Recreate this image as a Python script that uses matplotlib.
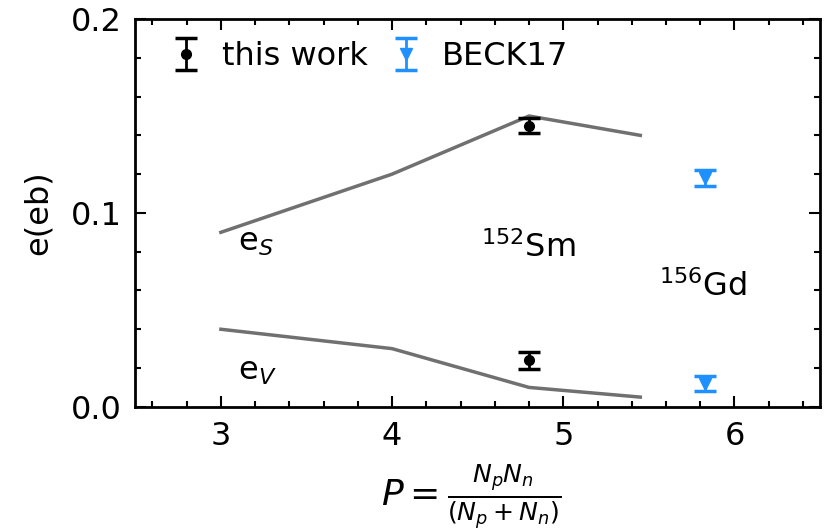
import matplotlib.pyplot as plt
from matplotlib.ticker import MultipleLocator

# IBM-2 effective charges against the P factor
p_calc = [3.0, 4.0, 4.8, 5.45]
eS_calc = [0.090, 0.120, 0.150, 0.140]
eV_calc = [0.040, 0.030, 0.010, 0.005]

# this work (152Sm)
p_sm = [4.8, 4.8]
e_sm = [0.145, 0.024]
err_sm = [0.004, 0.0045]

# BECK17 (156Gd)
p_gd = [5.83, 5.83]
e_gd = [0.118, 0.012]
err_gd = [0.004, 0.004]

fs = 23
plt.rcParams['font.size'] = fs

fig = plt.figure(figsize=(8.25, 5.29), dpi=100)
ax = fig.add_axes([0.164, 0.231, 0.83, 0.733])

ax.plot(p_calc, eS_calc, color='#707070', lw=2.5)
ax.plot(p_calc, eV_calc, color='#707070', lw=2.5)

ax.errorbar(p_sm, e_sm, yerr=err_sm, fmt='o', color='black', ms=7,
            elinewidth=2, capsize=8, capthick=2.5, label='this work')
ax.errorbar(p_gd, e_gd, yerr=err_gd, fmt='v', color='#1E90FF', ms=8,
            elinewidth=2, capsize=8, capthick=2.5, label='BECK17')

ax.text(3.1, 0.0845, '$\\mathregular{e}_S$', fontsize=fs, va='center')
ax.text(3.1, 0.018, '$\\mathregular{e}_V$', fontsize=fs, va='center')
ax.text(4.52, 0.082, '$^{152}$Sm', fontsize=fs, va='center')
ax.text(5.56, 0.062, '$^{156}$Gd', fontsize=fs, va='center')

ax.set_xlim(2.5, 6.5)
ax.set_ylim(0, 0.2)
ax.set_xticks([3, 4, 5, 6])
ax.set_yticks([0.0, 0.1, 0.2])
ax.xaxis.set_minor_locator(MultipleLocator(0.2))
ax.yaxis.set_minor_locator(MultipleLocator(0.02))
ax.tick_params(which='both', direction='in', top=True, right=True, width=1.5)
ax.tick_params(which='major', length=8, labelsize=fs, pad=10)
ax.tick_params(which='minor', length=4)
for s in ax.spines.values():
    s.set_linewidth(2)

ax.set_ylabel('e(eb)', fontsize=fs, labelpad=12)
ax.set_xlabel('$P=\\frac{N_pN_n}{(N_p+N_n)}$', fontsize=26)
ax.xaxis.set_label_coords(0.49, -0.142, transform=ax.transAxes)
ax.xaxis.label.set_va('top')

ax.legend(loc='upper left', bbox_to_anchor=(0.0175, 1.0), ncol=2,
          frameon=False, fontsize=fs, handletextpad=0.63,
          columnspacing=0.69, borderaxespad=0.3, handlelength=1.0)

fig.savefig('out.png')
